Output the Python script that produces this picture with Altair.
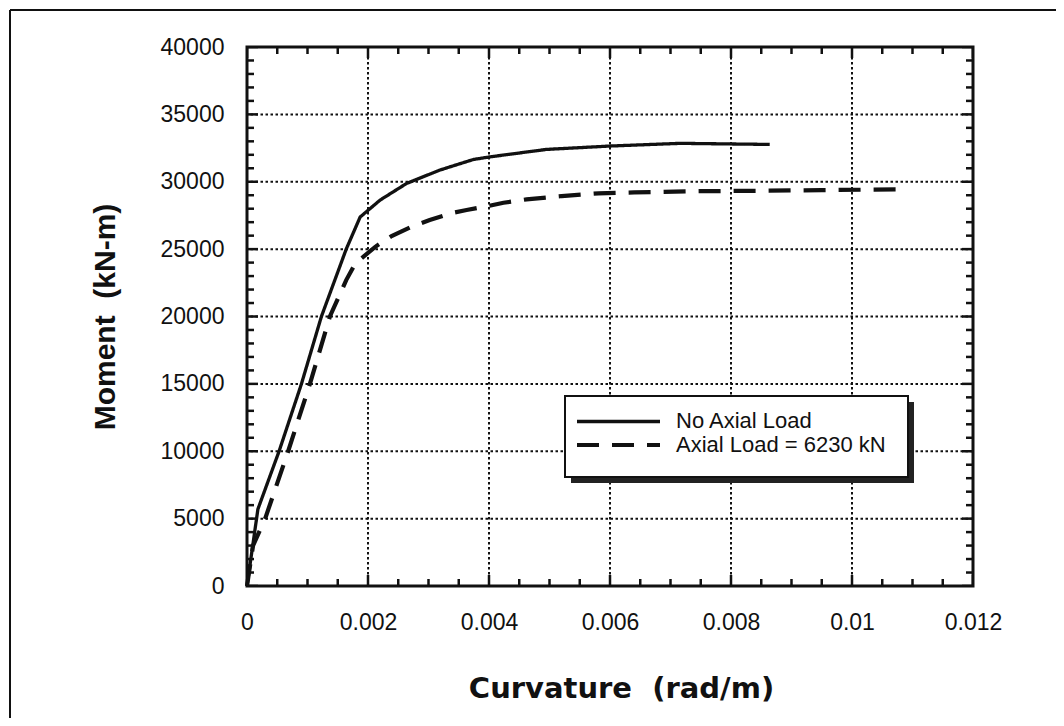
import altair as alt
import pandas as pd

# ---- data ----
series_names = ["No Axial Load", "Axial Load = 6230 kN"]

solid_x = [0, 0.00018, 0.00053, 0.0009, 0.00123, 0.00164, 0.00187, 0.0022,
           0.00264, 0.00319, 0.00374, 0.00402, 0.00495, 0.006, 0.00716, 0.00864]
solid_y = [0, 5700, 10000, 15000, 20000, 25000, 27380, 28640,
           29880, 30870, 31650, 31850, 32400, 32650, 32850, 32770]

dash_x = [0, 0.0001, 0.0003, 0.00068, 0.00104, 0.00137, 0.00164, 0.00179,
          0.00212, 0.00239, 0.00272, 0.00302, 0.00336, 0.00363, 0.00399,
          0.00424, 0.00462, 0.0052, 0.00581, 0.0064, 0.0075, 0.0085, 0.0095, 0.01074]
dash_y = [0, 3000, 5000, 10000, 15000, 20000, 22700, 23940,
          25170, 25970, 26660, 27160, 27650, 27900, 28200,
          28440, 28690, 28940, 29140, 29210, 29300, 29330, 29380, 29430]

x_ticks = [0, 0.002, 0.004, 0.006, 0.008, 0.01, 0.012]
y_ticks = [0, 5000, 10000, 15000, 20000, 25000, 30000, 35000, 40000]
x_grid = [0.002, 0.004, 0.006, 0.008, 0.01]
y_grid = [5000, 10000, 15000, 20000, 25000, 30000, 35000]
x_minor = [round(i * 0.0005, 6) for i in range(25)]
y_minor = [i * 1000 for i in range(41)]

W, H = 726, 539
INK = "#111111"
FONT = "Liberation Sans"

rows = []
for i, (a, b) in enumerate(zip(solid_x, solid_y)):
    rows.append({"series": series_names[0], "x": a, "y": b, "order": i})
for i, (a, b) in enumerate(zip(dash_x, dash_y)):
    rows.append({"series": series_names[1], "x": a, "y": b, "order": i})
df = pd.DataFrame(rows)

xt = pd.DataFrame({"v": x_minor,
                   "kind": ["major" if abs(v / 0.002 - round(v / 0.002)) < 1e-6 else "minor" for v in x_minor]})
yt = pd.DataFrame({"v": y_minor,
                   "kind": ["major" if v % 5000 == 0 else "minor" for v in y_minor]})
one = pd.DataFrame({"a": [0]})

xscale = alt.Scale(domain=[0, 0.012], nice=False, zero=False)
yscale = alt.Scale(domain=[0, 40000], nice=False)
tick_size = alt.Size("kind:N", scale=alt.Scale(domain=["minor", "major"], range=[14, 22]), legend=None)

grid_x = alt.Chart(pd.DataFrame({"v": x_grid})).mark_rule(
    color=INK, strokeWidth=2, strokeDash=[2.5, 2.5]
).encode(x=alt.X("v:Q", scale=xscale))
grid_y = alt.Chart(pd.DataFrame({"v": y_grid})).mark_rule(
    color=INK, strokeWidth=2, strokeDash=[2.5, 2.5]
).encode(y=alt.Y("v:Q", scale=yscale))

tk = dict(color=INK, thickness=2.5, clip=True, opacity=1)
tick_b = alt.Chart(xt).mark_tick(orient="vertical", **tk).encode(
    x=alt.X("v:Q", scale=xscale), y=alt.value(H), size=tick_size)
tick_t = alt.Chart(xt).mark_tick(orient="vertical", **tk).encode(
    x=alt.X("v:Q", scale=xscale), y=alt.value(0), size=tick_size)
tick_l = alt.Chart(yt).mark_tick(orient="horizontal", **tk).encode(
    y=alt.Y("v:Q", scale=yscale), x=alt.value(0), size=tick_size)
tick_r = alt.Chart(yt).mark_tick(orient="horizontal", **tk).encode(
    y=alt.Y("v:Q", scale=yscale), x=alt.value(W), size=tick_size)

# outer page frame (left and top edges visible)
frame_l = alt.Chart(one).mark_rule(color=INK, strokeWidth=2).encode(
    x=alt.value(-237), y=alt.value(-37), y2=alt.value(800))
frame_t = alt.Chart(one).mark_rule(color=INK, strokeWidth=2).encode(
    y=alt.value(-37), x=alt.value(-237), x2=alt.value(1000))

# hand-drawn legend box with 3D shadow
shadow = alt.Chart(one).mark_rect(fill="#222222").encode(
    x=alt.value(324), x2=alt.value(667), y=alt.value(355), y2=alt.value(436))
box = alt.Chart(one).mark_rect(fill="white", stroke=INK, strokeWidth=2).encode(
    x=alt.value(318), x2=alt.value(661), y=alt.value(349), y2=alt.value(430))
leg_sym1 = alt.Chart(one).mark_rule(color=INK, strokeWidth=3.3).encode(
    x=alt.value(330), x2=alt.value(413), y=alt.value(374.5))
leg_sym2 = alt.Chart(one).mark_rule(color=INK, strokeWidth=4.2, strokeDash=[22, 13]).encode(
    x=alt.value(330), x2=alt.value(413), y=alt.value(398))
leg_txt1 = alt.Chart(one).mark_text(align="left", baseline="middle", font=FONT, fontSize=22,
                                   color=INK).encode(
    x=alt.value(429), y=alt.value(374), text=alt.value(series_names[0]))
leg_txt2 = alt.Chart(one).mark_text(align="left", baseline="middle", font=FONT, fontSize=22,
                                   color=INK).encode(
    x=alt.value(429), y=alt.value(397.5), text=alt.value(series_names[1]))

lines = alt.Chart(df).mark_line(color=INK).encode(
    x=alt.X("x:Q", scale=xscale,
            axis=alt.Axis(values=x_ticks, format="~f", grid=False, ticks=False, domain=False,
                          labelFont=FONT, labelFontSize=23, labelColor=INK, labelPadding=25,
                          labelFlush=False, labelOverlap=False,
                          title="Curvature\u00a0\u00a0(rad/m)", titleFont="DejaVu Sans", titleFontSize=29,
                          titleFontWeight="bold", titleColor=INK, titleX=374, titleY=102,
                          titleBaseline="middle", titleAlign="center")),
    y=alt.Y("y:Q", scale=yscale,
            axis=alt.Axis(values=y_ticks, format="d", grid=False, ticks=False, domain=False,
                          labelFont=FONT, labelFontSize=23, labelColor=INK, labelPadding=23,
                          labelFlush=False, labelOverlap=False,
                          title="Moment\u00a0\u00a0(kN-m)", titleFont=FONT, titleFontSize=30,
                          titleFontWeight="bold", titleColor=INK, titleX=-142, titleY=269.5,
                          titleAngle=270, titleBaseline="middle", titleAlign="center")),
    strokeDash=alt.StrokeDash("series:N",
                              scale=alt.Scale(domain=series_names, range=[[1, 0], [22, 13]]),
                              legend=None),
    strokeWidth=alt.StrokeWidth("series:N",
                                scale=alt.Scale(domain=series_names, range=[3.3, 4.2]),
                                legend=None),
    order="order:Q",
)

chart = alt.layer(frame_l, frame_t, grid_x, grid_y, tick_b, tick_t, tick_l, tick_r, lines,
                  shadow, box, leg_sym1, leg_sym2, leg_txt1, leg_txt2).properties(
    width=W, height=H,
    autosize=alt.AutoSizeParams(type="none"),
    padding={"left": 239, "top": 39, "right": 83, "bottom": 132},
    background="white",
).configure_view(stroke=INK, strokeWidth=3)

chart.save("out.html", embed_options={"renderer": "svg", "actions": False})
